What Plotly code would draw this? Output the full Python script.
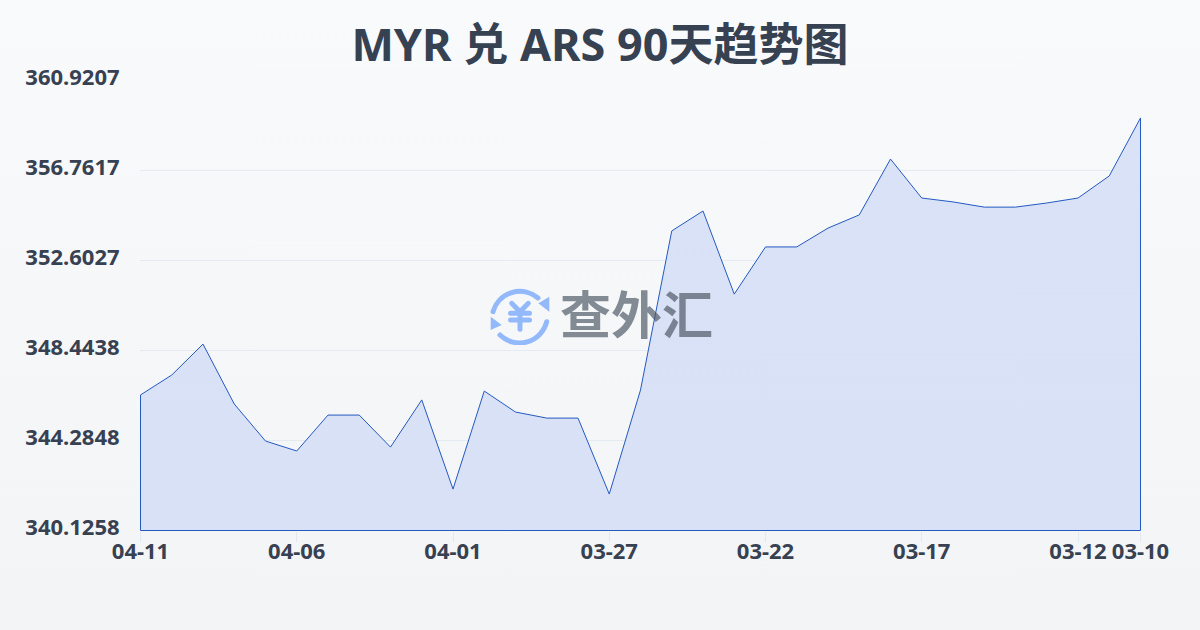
import base64
import plotly.graph_objects as go

title = "MYR 兑 ARS 90天趋势图"
watermark = "查外汇"
dates = ["04-11","04-10","04-09","04-08","04-07","04-06","04-05","04-04","04-03","04-02","04-01",
         "03-31","03-30","03-29","03-28","03-27","03-26","03-25","03-24","03-23","03-22","03-21",
         "03-20","03-19","03-18","03-17","03-16","03-15","03-14","03-13","03-12","03-11","03-10"]
rates = [346.39,347.31,348.74,345.97,344.26,343.80,345.46,345.46,343.98,346.16,342.04,
         346.57,345.60,345.32,345.32,341.81,346.62,353.97,354.89,351.05,353.23,353.23,
         354.10,354.71,357.29,355.49,355.31,355.07,355.07,355.26,355.49,356.51,359.19]
y_ticks = [340.1258,344.2848,348.4438,352.6027,356.7617,360.9207]
x_tick_labels = ["04-11","04-06","04-01","03-27","03-22","03-17","03-12","03-10"]

INK = "#374151"
LATIN = "Noto Sans, Noto Sans CJK SC"
bg_svg = ('<svg xmlns="http://www.w3.org/2000/svg" width="1200" height="630">'
          '<defs><linearGradient id="g" x1="0" y1="0" x2="0" y2="1">'
          '<stop offset="0" stop-color="#f8fafc"/><stop offset="1" stop-color="#f3f4f6"/>'
          '</linearGradient></defs><rect width="1200" height="630" fill="url(#g)"/></svg>')
icon_svg = ('<svg xmlns="http://www.w3.org/2000/svg" width="60" height="60" viewBox="0 0 60 60">'
            '<g fill="none" stroke="#93b9fb" stroke-width="5" stroke-linecap="round" stroke-linejoin="round">'
            '<path d="M3 26.7 A28 28 0 0 1 48 13"/><path d="M56.7 36.7 A28 28 0 0 1 10 50"/>'
            '<path d="M21.7 18.3 L30 26.7 L38.3 18.3 M30 26.7 V44.3 M20.5 28.3 H39.5 M20.5 35 H39.5"/></g>'
            '<g fill="#93b9fb"><path d="M48.3 18.3 L59.3 11.7 L59.3 26.7 Z"/><path d="M0.7 31.7 L11.7 40 L0.7 45 Z"/></g></svg>')

def uri(svg):
    return "data:image/svg+xml;base64," + base64.b64encode(svg.encode()).decode()

n = len(dates)
idx = list(range(n))
base = y_ticks[0]
tickvals = [dates.index(d) for d in x_tick_labels]
x_pad = 0.5 / 31.25
y_pad = 0.5 * (y_ticks[-1] - y_ticks[0]) / 450

fig = go.Figure(go.Scatter(
    x=idx + [idx[-1], idx[0], idx[0]],
    y=rates + [base, base, rates[0]],
    mode="lines", fill="toself", cliponaxis=False, hoverinfo="skip",
    line=dict(color="#2459c2", width=1),
    fillgradient=dict(type="vertical", colorscale=[[0, "#d8e1f5"], [1, "#d9e2f6"]]),
))
fig.update_layout(
    width=1200, height=630, autosize=False, showlegend=False,
    margin=dict(l=140, r=59, t=80, b=99),
    paper_bgcolor="#f6f8fa", plot_bgcolor="rgba(0,0,0,0)",
    font=dict(family=LATIN, color=INK),
    title=dict(text="<b>%s</b>" % title, x=0.5, xanchor="center", y=0.928, yanchor="middle",
               font=dict(size=45, color="#364152", family=LATIN)),
    xaxis=dict(range=[-x_pad, n - 1 + x_pad], tickmode="array", tickvals=tickvals, ticktext=["<b>%s</b>" % t for t in x_tick_labels],
               showgrid=False, zeroline=False, showline=False, ticks="outside", ticklen=10, tickwidth=1,
               tickcolor="#e2e8f0", tickfont=dict(size=22, color=INK), tickangle=0, ticklabelstandoff=-9),
    yaxis=dict(range=[y_ticks[0] - y_pad, y_ticks[-1] + y_pad], tickmode="array", tickvals=y_ticks,
               ticktext=["<b>%.4f</b>" % v for v in y_ticks], gridcolor="#e5e9f0", gridwidth=1,
               zeroline=False, showline=False, ticks="outside", ticklen=0, tickcolor="rgba(0,0,0,0)",
               tickfont=dict(size=22, color=INK), ticklabelstandoff=15, ticklabelshift=-3),
    images=[
        dict(source=uri(bg_svg), xref="paper", yref="paper", x=-140/1001, y=1+80/451, sizex=1200/1001, sizey=630/451,
             xanchor="left", yanchor="top", sizing="stretch", layer="below"),
        dict(source=uri(icon_svg), xref="paper", yref="paper", x=(490-140)/1001, y=(531-285)/451, sizex=60/1001, sizey=60/451,
             xanchor="left", yanchor="top", sizing="stretch", layer="above"),
    ],
    annotations=[dict(text="<b>%s</b>" % watermark, xref="paper", yref="paper", x=(636-140)/1001, y=(531-312)/451,
                      xanchor="center", yanchor="middle", showarrow=False,
                      font=dict(size=51, color="rgba(75,85,99,0.68)", family="Noto Sans CJK SC"))],
)
fig.write_html("out.html", config={"displayModeBar": False},
               post_script="document.body.style.margin='0';document.documentElement.style.overflow='hidden';")
